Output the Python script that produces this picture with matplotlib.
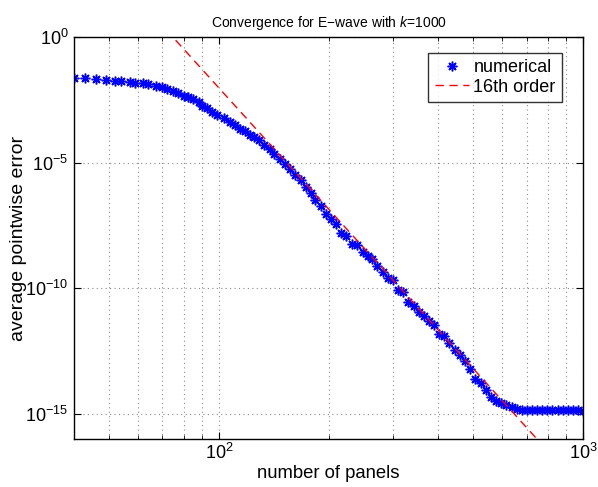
import numpy as np
import matplotlib
matplotlib.use("Agg")
import matplotlib.pyplot as plt
from matplotlib.ticker import FixedLocator, NullFormatter, NullLocator

plt.rcParams['font.family'] = ['Liberation Sans', 'DejaVu Sans']
plt.rcParams['mathtext.fontset'] = 'custom'
plt.rcParams['mathtext.rm'] = 'Liberation Sans'
plt.rcParams['mathtext.it'] = 'Liberation Sans:italic'
plt.rcParams['axes.unicode_minus'] = True

# numerical error vs number of panels
panels = [40, 43, 46, 49, 52, 54, 57, 59, 62, 64, 67, 70, 72, 75, 77, 80, 82, 85,
          88, 90, 93, 96, 99, 103, 107, 111, 114, 118, 122, 125, 129, 133, 138,
          142, 147, 152, 157, 162, 168, 173, 179, 184, 191, 197, 203, 210, 217,
          224, 232, 239, 248, 256, 264, 272, 282, 291, 301, 310, 321, 331, 343,
          354, 366, 378, 390, 403, 416, 429, 445, 459, 474, 489, 505, 524, 540,
          558, 577, 595, 614, 637, 657, 679, 700, 723, 747, 772, 797, 824, 851,
          879, 908, 937, 968, 1000]
error = [2.25e-2, 2.25e-2, 2.11e-2, 1.93e-2, 1.84e-2, 1.71e-2, 1.60e-2, 1.53e-2,
         1.42e-2, 1.30e-2, 1.13e-2, 1.01e-2, 8.6e-3, 7.0e-3, 5.68e-3, 4.56e-3,
         3.93e-3, 3.36e-3, 2.48e-3, 1.82e-3, 1.43e-3, 1.05e-3, 7.74e-4, 5.71e-4,
         4.18e-4, 3.09e-4, 2.28e-4, 1.78e-4, 1.31e-4, 1.05e-4, 7.8e-5, 5.15e-5,
         3.41e-5, 2.29e-5, 1.45e-5, 9.2e-6, 5.43e-6, 3.34e-6, 1.98e-6, 1.07e-6,
         6.4e-7, 3.15e-7, 1.87e-7, 9.3e-8, 5.9e-8, 3.48e-8, 1.62e-8, 1.23e-8,
         5.9e-9, 5.5e-9, 2.9e-9, 2.0e-9, 1.4e-9, 8.0e-10, 4.6e-10, 2.5e-10,
         2.2e-10, 8.9e-11, 7.4e-11, 2.76e-11, 1.91e-11, 1.18e-11, 7.6e-12,
         5.15e-12, 3.47e-12, 1.56e-12, 1.24e-12, 6.4e-13, 3.49e-13, 2.2e-13,
         1.22e-13, 6.1e-14, 2.43e-14, 1.69e-14, 8.9e-15, 4.8e-15, 3.3e-15,
         2.8e-15, 2.3e-15, 1.8e-15, 1.55e-15, 1.45e-15, 1.42e-15, 1.40e-15,
         1.40e-15, 1.38e-15, 1.40e-15, 1.37e-15, 1.40e-15, 1.38e-15, 1.37e-15,
         1.39e-15, 1.38e-15, 1.36e-15]

# 16th order reference line (hits 1 at N=74.7, 1e-16 at N=747)
ref_panels = [30, 74.7, 747, 1100]
ref_error = [10**(16*np.log10(74.7/30)), 1.0, 1e-16, 10**(-16*np.log10(1100/74.7))]

fig = plt.figure(figsize=(5.98, 4.87), dpi=100)
ax = fig.add_axes([0.1237, 0.0986, 0.8513, 0.8254])

ax.loglog(panels, error, linestyle='none', marker=(8, 2, 0), color='#0000ff',
          markersize=7, markeredgewidth=1.1, label='numerical')
ax.loglog(ref_panels, ref_error, '--', color='#ff0000', linewidth=1.0,
          dashes=(6, 4), label='16th order')

ax.set_xlim(40, 1000)
ax.set_ylim(1e-16, 1)

ax.yaxis.set_major_locator(FixedLocator([1e0, 1e-5, 1e-10, 1e-15]))
ax.yaxis.set_minor_locator(NullLocator())
ax.set_yticklabels(['$10^{0}$', '$10^{-5}$', '$10^{-10}$', '$10^{-15}$'])
ax.xaxis.set_major_locator(FixedLocator([100, 1000]))
ax.set_xticklabels(['$10^{2}$', '$10^{3}$'])
ax.xaxis.set_minor_locator(FixedLocator([50, 60, 70, 80, 90, 200, 300, 400, 500,
                                         600, 700, 800, 900]))
ax.xaxis.set_minor_formatter(NullFormatter())

ax.tick_params(which='both', direction='in', top=True, right=True, labelsize=13)
ax.tick_params(which='major', length=5, width=0.8)
ax.tick_params(axis='x', which='major', pad=3)
ax.tick_params(axis='y', which='major', pad=4)
ax.tick_params(which='minor', length=3, width=0.6)
ax.grid(True, which='major', linestyle=(0, (1, 3)), color='#8c8c8c', linewidth=0.8)
ax.grid(True, which='minor', axis='x', linestyle=(0, (1, 3)), color='#8c8c8c',
        linewidth=0.8)
for s in ax.spines.values():
    s.set_linewidth(1.0)

ax.set_xlabel('number of panels', fontsize=13.3, labelpad=1)
ax.set_ylabel('average pointwise error', fontsize=14)
ax.yaxis.set_label_coords(-0.093, 0.5)
ax.set_title('Convergence for E\u2212wave with $\\mathit{k}$=1000', fontsize=10, pad=7)

leg = ax.legend(loc='upper right', bbox_to_anchor=(0.9587, 0.961), fontsize=13,
                frameon=True, fancybox=False, edgecolor='black', borderaxespad=0,
                handlelength=1.9, handletextpad=0.25, borderpad=0.35,
                labelspacing=0.15)
leg.get_frame().set_linewidth(1.0)

fig.savefig('out.png', dpi=100)
